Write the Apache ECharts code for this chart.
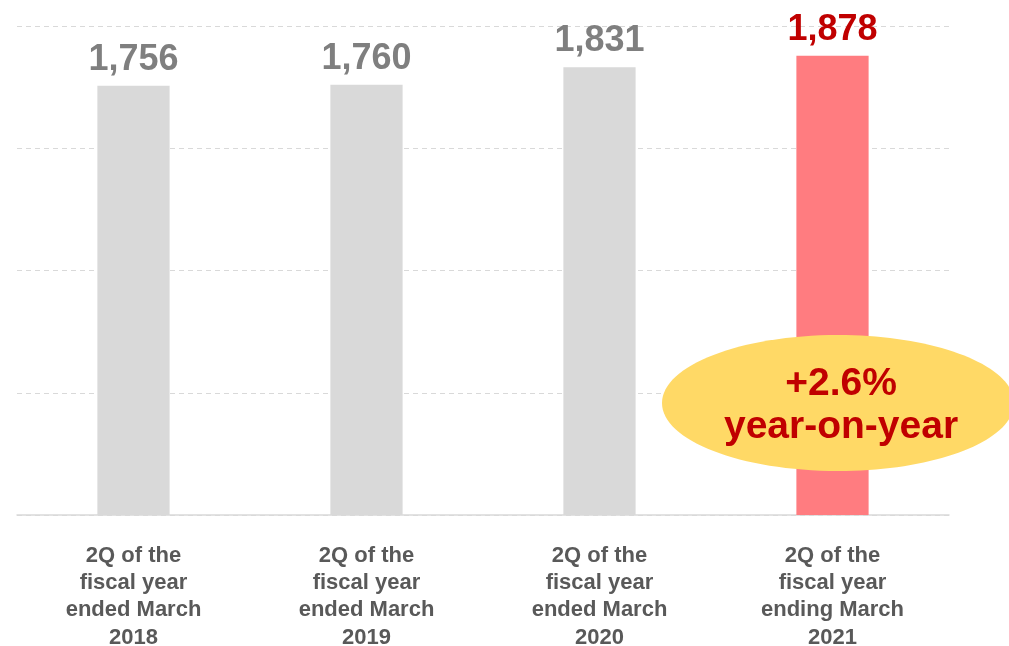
<!DOCTYPE html>
<html>
<head>
<meta charset="utf-8">
<script src="https://cdn.jsdelivr.net/npm/echarts@6/dist/echarts.min.js"></script>
<style>
  html, body { margin: 0; padding: 0; background: #ffffff; }
  #chart { width: 1009px; height: 646px; }
</style>
</head>
<body>
<div id="chart"></div>
<script>
// Quarterly figures, 2Q of each fiscal year
const categories = [
  '2Q of the\nfiscal year\nended March\n2018',
  '2Q of the\nfiscal year\nended March\n2019',
  '2Q of the\nfiscal year\nended March\n2020',
  '2Q of the\nfiscal year\nending March\n2021'
];
const values = [1756, 1760, 1831, 1878];
const highlightIndex = 3;
const growthNote = '+2.6%\nyear-on-year';

const chart = echarts.init(document.getElementById('chart'));

const barData = values.map((v, i) => ({
  value: v,
  itemStyle: { color: i === highlightIndex ? '#ff7c80' : '#d9d9d9' },
  label: { color: i === highlightIndex ? '#c00000' : '#7f7f7f' }
}));

chart.setOption({
  backgroundColor: '#ffffff',
  animation: false,
  grid: {
    left: 17, right: 60, top: 26, bottom: 131,
    containLabel: false,
    outerBoundsMode: 'none'
  },
  xAxis: {
    type: 'category',
    data: categories,
    axisLine: { show: true, lineStyle: { color: '#d9d9d9', width: 1.5 } },
    axisTick: { show: false },
    axisLabel: {
      interval: 0,
      margin: 27,
      color: '#595959',
      fontFamily: 'Liberation Sans, Arial, sans-serif',
      fontWeight: 'bold',
      fontSize: 22,
      lineHeight: 27.3,
      align: 'center'
    }
  },
  yAxis: {
    type: 'value',
    min: 0,
    max: 2000,
    interval: 500,
    axisLabel: { show: false },
    axisLine: { show: false },
    axisTick: { show: false },
    splitLine: { show: true, lineStyle: { color: '#d9d9d9', type: [5, 4], width: 1 } }
  },
  series: [{
    type: 'bar',
    data: barData,
    barWidth: '31%',
    label: {
      show: true,
      position: 'top',
      distance: 8,
      fontFamily: 'Liberation Sans, Arial, sans-serif',
      fontWeight: 'bold',
      fontSize: 36,
      formatter: p => p.value.toLocaleString('en-US')
    }
  }],
  graphic: [{
    type: 'group',
    left: 662,
    top: 335,
    z: 100,
    children: [{
      type: 'ellipse',
      z: 100,
      shape: { cx: 176, cy: 68, rx: 176, ry: 68 },
      style: { fill: '#ffd966' }
    }, {
      type: 'text',
      z: 101,
      x: 179,
      y: 71,
      style: {
        text: growthNote,
        fill: '#c00000',
        font: 'bold 39px "Liberation Sans", Arial, sans-serif',
        lineHeight: 43,
        align: 'center',
        verticalAlign: 'middle'
      }
    }]
  }]
});
</script>
</body>
</html>
